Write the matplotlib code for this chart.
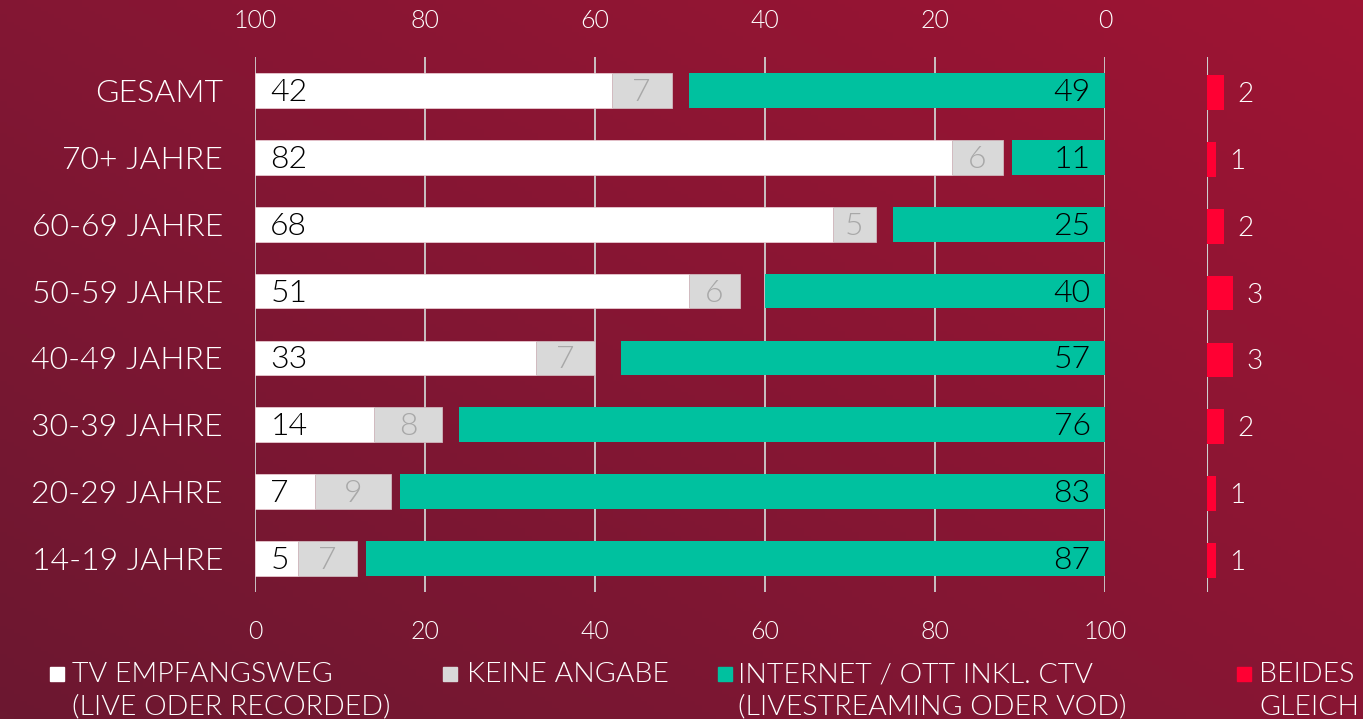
import numpy as np
import matplotlib
matplotlib.use("Agg")
import matplotlib.pyplot as plt
from matplotlib.patches import Rectangle
from matplotlib.colors import LinearSegmentedColormap

plt.rcParams['font.family'] = ['Lato', 'DejaVu Sans']
plt.rcParams['font.weight'] = 300

categories = ["GESAMT", "70+ JAHRE", "60-69 JAHRE", "50-59 JAHRE",
              "40-49 JAHRE", "30-39 JAHRE", "20-29 JAHRE", "14-19 JAHRE"]
tv = [42, 82, 68, 51, 33, 14, 7, 5]
keine = [7, 6, 5, 6, 7, 8, 9, 7]
internet = [49, 11, 25, 40, 57, 76, 83, 87]
beides = [2, 1, 2, 3, 3, 2, 1, 1]
ticks = [0, 20, 40, 60, 80, 100]
legend_labels = ["TV EMPFANGSWEG\n(LIVE ODER RECORDED)", "KEINE ANGABE",
                 "INTERNET / OTT INKL. CTV\n(LIVESTREAMING ODER VOD)", "BEIDES\nGLEICH"]

C_TV = "#ffffff"
C_KA = "#d9d9d9"
C_NET = "#00c19f"
C_BG = "#ff0033"
C_GRID = "#cfcfcf"
W = 1363
H = 719

fig = plt.figure(figsize=(W / 100, H / 100), dpi=100)

# background gradient (darker bottom-left, brighter top-right)
bg = fig.add_axes([0, 0, 1, 1], zorder=-10)
yy, xx = np.mgrid[0:1:200j, 0:1:200j]
t = 0.55 * xx + 0.45 * yy
cmap = LinearSegmentedColormap.from_list("bgc", ["#6c1830", "#861634", "#9e1433"])
bg.imshow(t, cmap=cmap, aspect='auto', origin='lower', extent=[0, 1, 0, 1])
bg.axis('off')

def fx(px):
    return px / W

def fy(py):
    return 1 - py / H

top_px, bot_px = 57, 592
ax = fig.add_axes([fx(255), fy(bot_px), fx(1105) - fx(255), (bot_px - top_px) / H])
ax.set_facecolor('none')
y = np.arange(len(categories))
bh = 0.52
ax.barh(y, tv, height=bh, color=C_TV, zorder=3, edgecolor="#e8c9d0", linewidth=0.6)
ax.barh(y, keine, left=tv, height=bh, color=C_KA, zorder=3, edgecolor="#d0b8be", linewidth=0.6)
ax.barh(y, internet, left=[100 - v for v in internet], height=bh, color=C_NET, zorder=3)

for i in range(len(categories)):
    ax.text(1.8, y[i] + 0.03, str(tv[i]), va='center', ha='left', fontsize=23, color='black', zorder=4)
    ax.text(tv[i] + keine[i] / 2, y[i] + 0.03, str(keine[i]), va='center', ha='center', fontsize=23,
            color='#a8a8a8', zorder=4)
    ax.text(98.3, y[i] + 0.03, str(internet[i]), va='center', ha='right', fontsize=23,
            color='black', zorder=4)

ax.set_xlim(0, 100)
ax.set_ylim(len(categories) - 0.5, -0.5)
ax.set_xticks(ticks)
ax.set_xticklabels([str(v) for v in ticks])
ax.tick_params(axis='x', length=0, pad=20, labelsize=18, colors='white')
ax.set_yticks(y)
ax.set_yticklabels(categories)
ax.tick_params(axis='y', length=0, pad=23, labelsize=23, colors='white')
ax.grid(axis='x', color=C_GRID, linewidth=1.3, zorder=0)
for s in ax.spines.values():
    s.set_visible(False)

sec = ax.secondary_xaxis('top', functions=(lambda v: 100 - v, lambda v: 100 - v))
sec.set_xticks(ticks)
sec.set_xticklabels([str(v) for v in ticks])
sec.tick_params(axis='x', length=0, pad=17, labelsize=18, colors='white')
sec.spines['top'].set_visible(False)

# red axis
unit = 850 / 100
ax2 = fig.add_axes([fx(1207), fy(bot_px), 10 * unit / W, (bot_px - top_px) / H])
ax2.set_facecolor('none')
ax2.barh(y + 0.03, beides, height=bh, color=C_BG, zorder=3)
for i in range(len(categories)):
    ax2.text(beides[i] + 1.6, y[i] + 0.06, str(beides[i]), va='center', ha='left', fontsize=20,
             color='white')
ax2.set_xlim(0, 10)
ax2.set_ylim(len(categories) - 0.5, -0.5)
ax2.axvline(0, color=C_GRID, linewidth=1.5, zorder=1)
ax2.axis('off')

# legend
leg = [(50, 72, C_TV), (443, 467, C_KA), (718, 738, C_NET), (1237, 1259, C_BG)]
for (sx, tx, c), lab in zip(leg, legend_labels):
    fig.patches.append(Rectangle((fx(sx), fy(681)), 14 / W, 14 / H, color=c,
                                 transform=fig.transFigure, figure=fig))
    fig.text(fx(tx), fy(662), lab, ha='left', va='top', fontsize=20.5, color='white',
             linespacing=1.38)

fig.savefig("out.png", dpi=100)
